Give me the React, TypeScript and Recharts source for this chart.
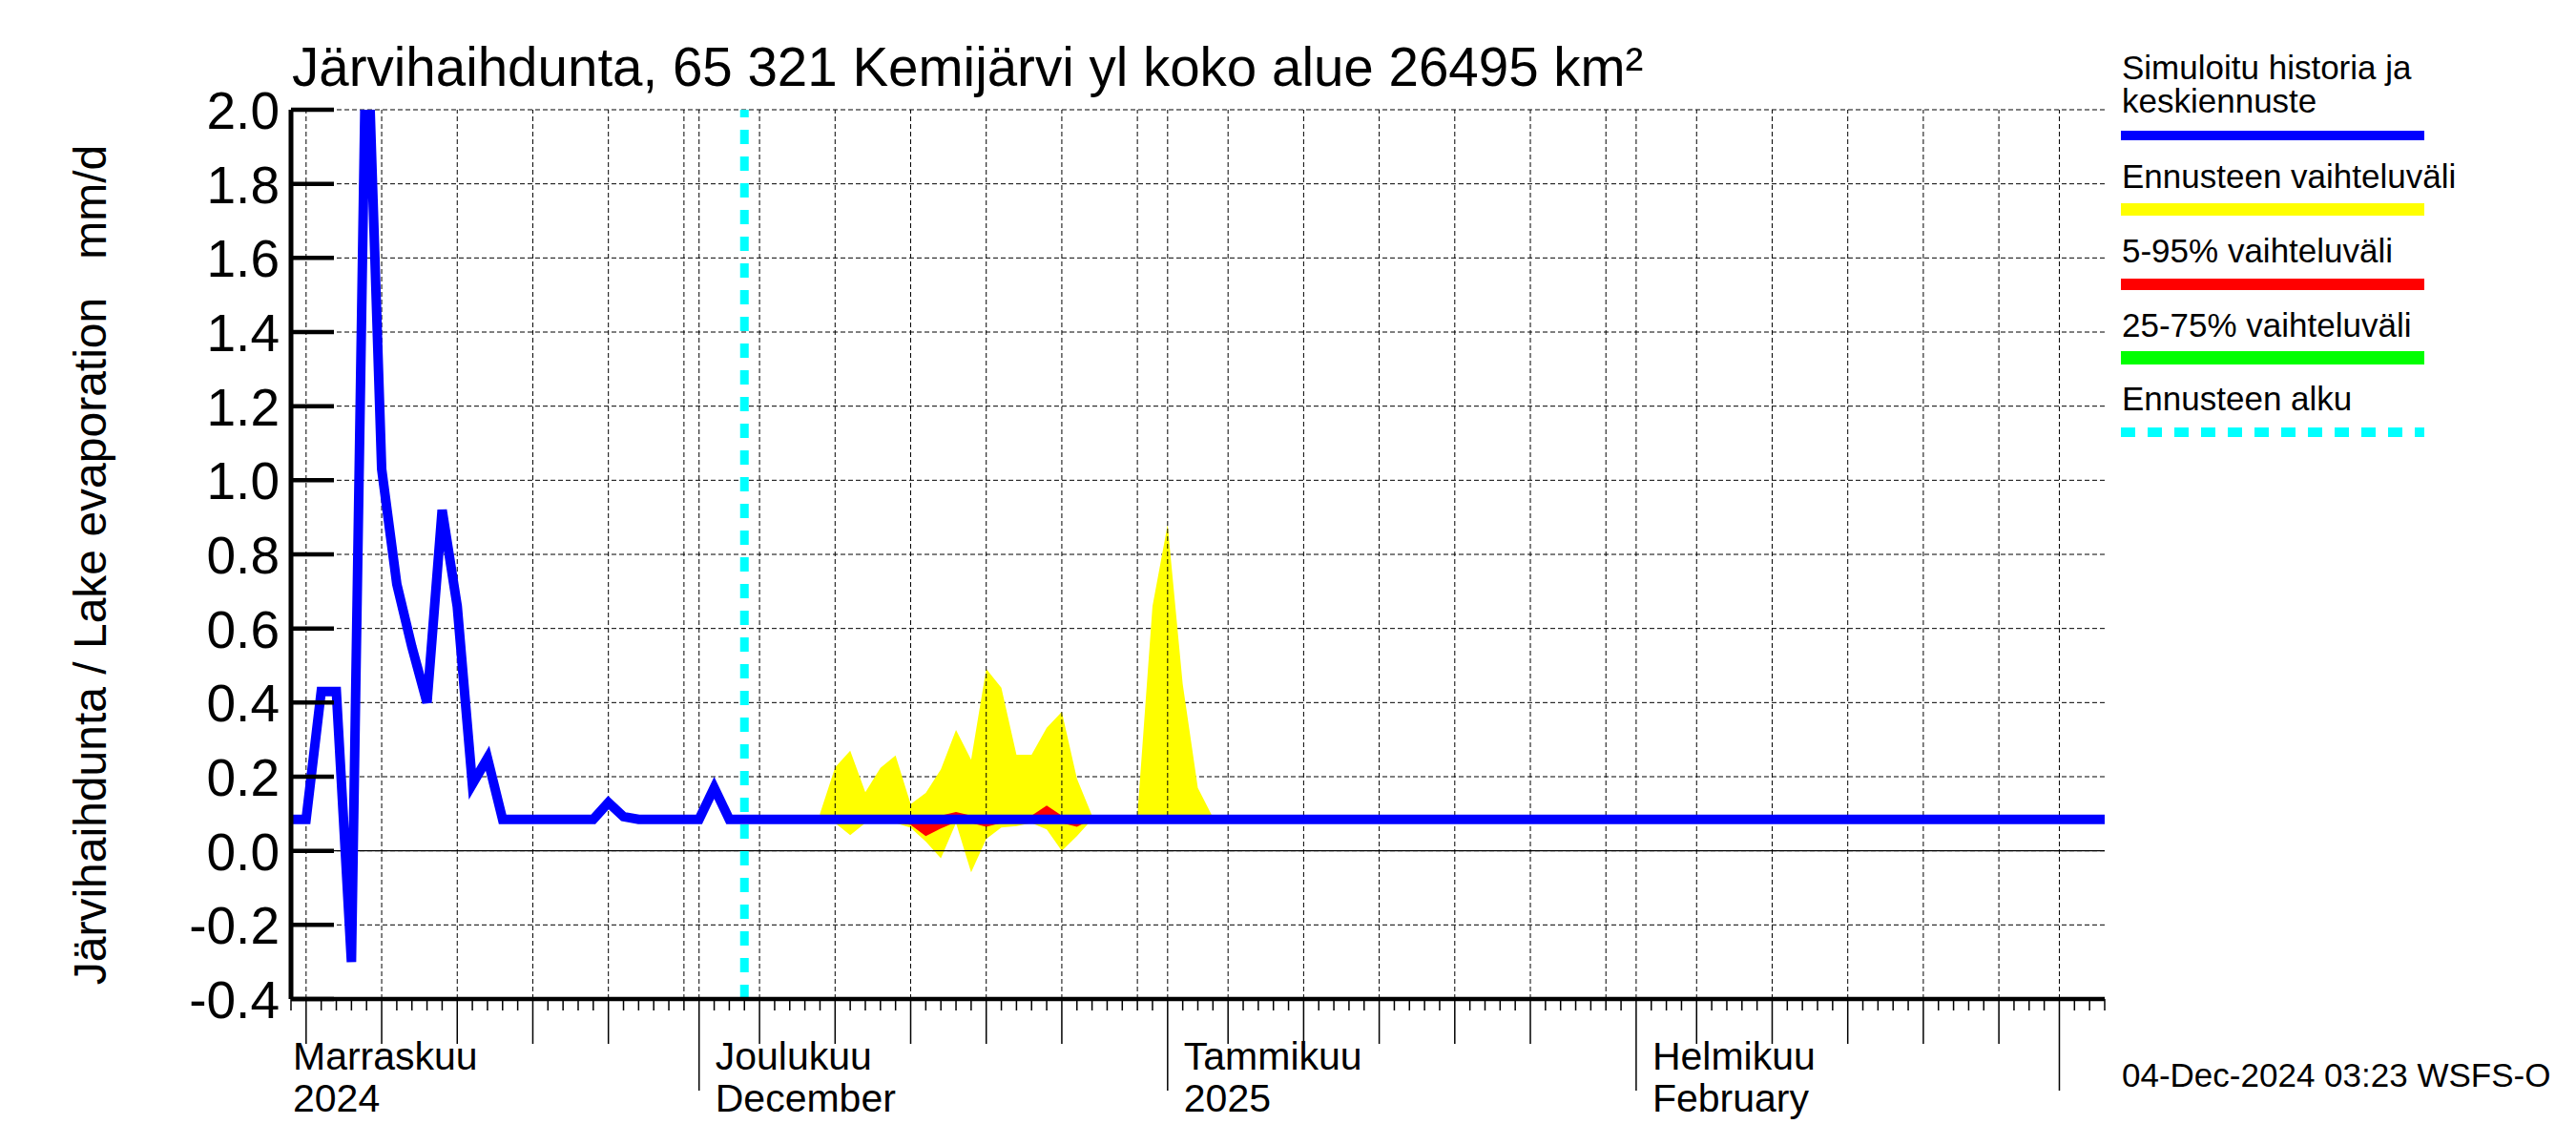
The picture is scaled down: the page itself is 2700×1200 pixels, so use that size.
import React from 'react'
import { ComposedChart, Line, Area, XAxis, YAxis, CartesianGrid, ReferenceLine } from 'recharts'

const FONT = '"Liberation Sans", Arial, Helvetica, sans-serif'

// day index 0 = 4 Nov 2024, axis runs to 4 Mar 2025
const START = { y: 2024, m: 10, d: 4 }
const LAST_DAY = 120

// simulated history + median forecast (mm/d)
const SIM_DAY = [0, 1, 2, 3, 4, 5, 6, 7, 8, 9, 10, 11, 12, 13, 14, 20, 21, 22, 23, 27, 28, 29, 120]
const SIM_VAL = [0.085, 0.085, 0.43, 0.43, -0.3, 2.3, 1.03, 0.72, 0.55, 0.4, 0.92, 0.66, 0.18, 0.25, 0.085, 0.085, 0.13, 0.092, 0.085, 0.085, 0.17, 0.085, 0.085]

// forecast bands
const BAND_DAY = [35, 36, 37, 38, 39, 40, 41, 42, 43, 44, 45, 46, 47, 48, 49, 50, 51, 52, 53, 54, 55, 56, 57, 58, 59, 60, 61]
const YELLOW_LO = [0.085, 0.075, 0.042, 0.075, 0.08, 0.075, 0.062, 0.025, -0.02, 0.075, -0.058, 0.032, 0.063, 0.067, 0.075, 0.058, 0.0, 0.04, 0.085, null, null, 0.085, 0.085, 0.085, 0.085, 0.085, 0.085]
const YELLOW_HI = [0.1, 0.225, 0.27, 0.158, 0.224, 0.257, 0.126, 0.156, 0.22, 0.326, 0.246, 0.491, 0.44, 0.259, 0.259, 0.332, 0.375, 0.195, 0.095, null, null, 0.095, 0.66, 0.88, 0.45, 0.17, 0.09]
const RED_LO = [0.085, 0.078, 0.075, 0.078, 0.08, 0.078, 0.07, 0.04, 0.06, 0.078, 0.075, 0.065, 0.075, 0.075, 0.078, 0.075, 0.075, 0.065, 0.085, null, null, 0.085, 0.085, 0.085, 0.085, 0.085, 0.085]
const RED_HI = [0.09, 0.092, 0.095, 0.092, 0.092, 0.093, 0.095, 0.095, 0.095, 0.105, 0.095, 0.095, 0.095, 0.093, 0.095, 0.122, 0.095, 0.095, 0.092, null, null, 0.092, 0.092, 0.092, 0.092, 0.092, 0.09]
const GREEN_LO = [0.085, 0.082, 0.082, 0.082, 0.082, 0.082, 0.082, 0.082, 0.082, 0.082, 0.082, 0.082, 0.082, 0.082, 0.082, 0.082, 0.082, 0.082, 0.085, null, null, 0.085, 0.082, 0.082, 0.082, 0.082, 0.085]
const GREEN_HI = [0.088, 0.089, 0.089, 0.089, 0.089, 0.089, 0.089, 0.089, 0.089, 0.089, 0.089, 0.089, 0.089, 0.089, 0.089, 0.089, 0.089, 0.089, 0.088, null, null, 0.088, 0.089, 0.089, 0.089, 0.089, 0.088]

const FORECAST_START = 30

const Y_TICKS = [-0.4, -0.2, 0, 0.2, 0.4, 0.6, 0.8, 1.0, 1.2, 1.4, 1.6, 1.8, 2.0]
const MONTH_DAYS = [0, 27, 58, 89]
const MONTH_FI = ['Marraskuu', 'Joulukuu', 'Tammikuu', 'Helmikuu']
const MONTH_SUB = ['2024', 'December', '2025', 'February']

const LEGEND = [
  { lines: ['Simuloitu historia ja', 'keskiennuste'], color: '#0000ff', width: 10, dash: undefined as string | undefined },
  { lines: ['Ennusteen vaihteluväli'], color: '#ffff00', width: 13, dash: undefined },
  { lines: ['5-95% vaihteluväli'], color: '#ff0000', width: 12, dash: undefined },
  { lines: ['25-75% vaihteluväli'], color: '#00ff00', width: 14, dash: undefined },
  { lines: ['Ennusteen alku'], color: '#00ffff', width: 10, dash: '15 13' },
]

const simData = SIM_DAY.map((day, i) => ({ day, v: SIM_VAL[i] }))
const pair = (lo: (number | null)[], hi: (number | null)[], i: number) =>
  lo[i] == null || hi[i] == null ? null : [lo[i], hi[i]]
const bandData = BAND_DAY.map((day, i) => ({
  day,
  yellow: pair(YELLOW_LO, YELLOW_HI, i),
  red: pair(RED_LO, RED_HI, i),
  green: pair(GREEN_LO, GREEN_HI, i),
}))

const dayOfMonth = (i: number) => new Date(START.y, START.m, START.d + i).getDate()
const AXIS_DAYS = Array.from({ length: LAST_DAY + 1 }, (_, i) => i)
const GRID_DAYS = AXIS_DAYS.filter(i => {
  const d = dayOfMonth(i)
  return d === 1 || d % 5 === 0
})

function XTick(props: any) {
  const { x, y, payload } = props
  const day = payload.value
  const d = dayOfMonth(day)
  const len = d === 1 ? 96 : d % 5 === 0 && d !== 30 ? 47 : 12
  const mi = MONTH_DAYS.indexOf(day)
  return (
    <g>
      <line x1={x} x2={x} y1={y} y2={y + len} stroke="#000" strokeWidth={1.5} />
      {mi >= 0 && (
        <text fontFamily={FONT} fontSize={41} fill="#000">
          <tspan x={x + (mi === 0 ? 2 : 17)} y={y + 74}>{MONTH_FI[mi]}</tspan>
          <tspan x={x + (mi === 0 ? 2 : 17)} y={y + 118}>{MONTH_SUB[mi]}</tspan>
        </text>
      )}
    </g>
  )
}

function YTick(props: any) {
  const { x, y, payload } = props
  return (
    <g>
      <line x1={x} x2={x + 45} y1={y} y2={y} stroke="#000" strokeWidth={4.5} />
      <text x={x - 12} y={y + 20} textAnchor="end" fontFamily={FONT} fontSize={55} fill="#000">
        {Number(payload.value).toFixed(1)}
      </text>
    </g>
  )
}

export default function App() {
  return (
    <div style={{ position: 'absolute', left: 0, top: 0, width: 2700, height: 1200, background: '#fff' }}>
      <ComposedChart width={2700} height={1200} margin={{ top: 115, right: 494, bottom: 23, left: 105 }}>
        <CartesianGrid vertical={false} stroke="#000" strokeWidth={1} strokeDasharray="5 3" />
        {GRID_DAYS.map(d => (
          <ReferenceLine key={d} x={d} stroke="#000" strokeWidth={1} strokeDasharray="5 3" />
        ))}
        <ReferenceLine y={0} stroke="#000" strokeWidth={1.4} />
        <XAxis
          type="number"
          dataKey="day"
          domain={[0, LAST_DAY]}
          ticks={AXIS_DAYS}
          interval={0}
          height={130}
          tickSize={0}
          tickMargin={0}
          axisLine={{ stroke: '#000', strokeWidth: 4.5 }}
          tick={(p: any) => <XTick {...p} />}
          allowDataOverflow
        />
        <YAxis
          type="number"
          domain={[-0.4, 2]}
          ticks={Y_TICKS}
          interval={0}
          width={200}
          tickSize={0}
          tickMargin={0}
          axisLine={{ stroke: '#000', strokeWidth: 5 }}
          tick={(p: any) => <YTick {...p} />}
          allowDataOverflow
        />
        <Area data={bandData} dataKey="yellow" type="linear" stroke="none" fill="#ffff00" fillOpacity={1} isAnimationActive={false} dot={false} activeDot={false} />
        <Area data={bandData} dataKey="red" type="linear" stroke="none" fill="#ff0000" fillOpacity={1} isAnimationActive={false} dot={false} activeDot={false} />
        <Area data={bandData} dataKey="green" type="linear" stroke="none" fill="#00ff00" fillOpacity={1} isAnimationActive={false} dot={false} activeDot={false} />
        <Line data={simData} dataKey="v" type="linear" stroke="#0000ff" strokeWidth={10} dot={false} activeDot={false} isAnimationActive={false} />
        <ReferenceLine x={FORECAST_START} stroke="#00ffff" strokeWidth={9} strokeDasharray="15 13" />
      </ComposedChart>

      <svg width={2700} height={1200} style={{ position: 'absolute', left: 0, top: 0, pointerEvents: 'none' }}>
        <text x={306} y={90} fontFamily={FONT} fontSize={56.5} fill="#000">
          Järvihaihdunta, 65 321 Kemijärvi yl koko alue 26495 km²
        </text>
        <text
          transform="translate(111,592) rotate(-90)"
          textAnchor="middle"
          fontFamily={FONT}
          fontSize={48}
          fill="#000"
          style={{ whiteSpace: 'pre' }}
        >
          {'Järvihaihdunta / Lake evaporation   mm/d'}
        </text>
        {(() => {
          const baselines = [[83, 118], [197], [275], [353], [430]]
          const lineY = [142, 219.5, 298, 375, 453]
          return LEGEND.map((item, i) => (
            <g key={i}>
              {item.lines.map((t, j) => (
                <text key={j} x={2224} y={baselines[i][j]} fontFamily={FONT} fontSize={35} fill="#000">
                  {t}
                </text>
              ))}
              <line x1={2223} x2={2541} y1={lineY[i]} y2={lineY[i]} stroke={item.color} strokeWidth={item.width} strokeDasharray={item.dash} />
            </g>
          ))
        })()}
        <text x={2224} y={1139} fontFamily={FONT} fontSize={35} fill="#000">
          04-Dec-2024 03:23 WSFS-O
        </text>
      </svg>
    </div>
  )
}
